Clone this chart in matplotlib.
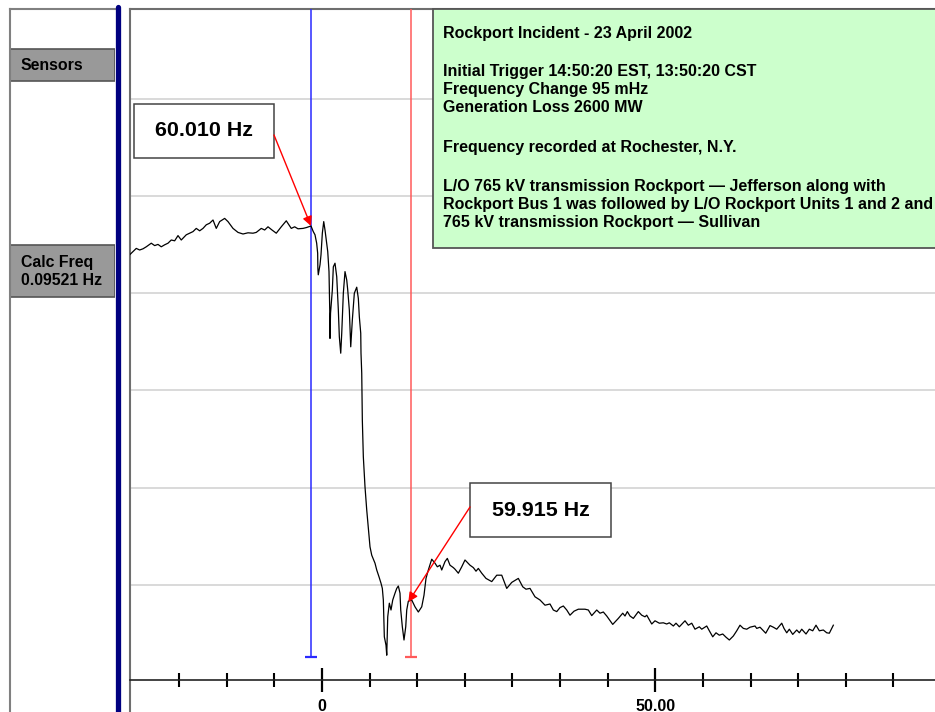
import matplotlib.pyplot as plt
from matplotlib.patches import Rectangle
from matplotlib.lines import Line2D

plt.rcParams['font.family'] = ['Liberation Sans', 'DejaVu Sans']
plt.rcParams['font.weight'] = 'bold'

# frequency trace (s relative to trigger, Hz)
time_s = [
    -28.85, -28.35, -27.86, -27.35, -26.85, -26.36, -25.61, -25.10, -24.60, -24.11,
    -23.60, -23.10, -22.61, -22.10, -21.60, -21.11, -20.36, -19.85, -19.35, -18.86,
    -18.35, -17.85, -17.36, -16.85, -16.35, -15.86, -15.35, -14.60, -14.10, -13.35,
    -12.60, -11.85, -11.10, -10.35, -9.86, -9.11, -8.60, -8.10, -7.50, -6.86,
    -6.11, -5.36, -4.61, -4.10, -3.60, -2.85, -2.36, -1.65,
    -1.31, -1.05, -0.80, -0.65, -0.62, -0.56, -0.30, -0.15, 0.05, 0.26,
    0.45, 0.71, 0.86, 1.05, 1.16, 1.20, 1.28, 1.55, 1.70, 1.95,
    2.21, 2.36, 2.45, 2.60, 2.81, 2.96, 3.20, 3.45, 3.71, 3.86,
    4.10, 4.31, 4.55, 4.85, 5.21, 5.45, 5.60, 5.81, 5.85, 5.96,
    6.05, 6.20, 6.45, 6.71, 7.20, 7.46, 7.95, 8.21, 8.55, 8.85,
    9.05, 9.20, 9.24, 9.35, 9.60, 9.71, 9.80, 9.86, 10.10, 10.35,
    10.61, 10.95, 11.21, 11.45, 11.70, 11.81, 12.05, 12.30, 12.56, 12.71,
    12.95, 13.46, 13.95, 14.45, 14.96, 15.30, 15.60, 15.95, 16.46, 16.95,
    17.30, 17.70, 17.96, 18.45, 18.80, 19.20, 19.70, 19.95, 20.45, 20.96,
    21.45, 22.20, 22.70, 23.10, 23.45, 23.96, 24.60, 25.46, 26.21, 26.96,
    27.71, 28.46, 29.45, 30.11, 30.60, 31.20, 31.95, 32.70, 33.45, 34.20,
    34.70, 35.21, 35.70, 36.20, 36.71, 37.20, 37.80, 38.45, 39.45, 39.95,
    40.46, 41.21, 41.70, 42.20, 42.71, 43.61, 44.45, 45.11, 45.45, 45.80,
    46.20, 46.70, 47.45, 47.96, 48.45, 48.71, 49.46, 49.95, 50.60, 51.20,
    51.71, 52.10, 52.70, 53.10, 53.60, 54.45, 54.95, 55.46, 55.95, 56.60,
    56.96, 57.71, 58.10, 58.61, 59.10, 59.60, 60.11, 60.60, 61.10, 61.70,
    62.21, 62.70, 63.20, 63.71, 64.20, 64.95, 65.21, 65.70, 66.56, 67.20,
    67.70, 68.21, 68.96, 69.30, 69.71, 70.10, 70.61, 71.21, 71.60, 71.96,
    72.60, 73.10, 73.61, 74.10, 74.60, 75.20, 75.71, 76.10, 76.70,
]
freq_hz = [
    60.0028, 60.0036, 60.0044, 60.0040, 60.0043, 60.0048, 60.0057, 60.0051, 60.0054, 60.0048,
    60.0053, 60.0057, 60.0065, 60.0063, 60.0076, 60.0065, 60.0078, 60.0082, 60.0086, 60.0094,
    60.0088, 60.0094, 60.0103, 60.0107, 60.0115, 60.0094, 60.0111, 60.0119, 60.0111, 60.0094,
    60.0084, 60.0080, 60.0083, 60.0082, 60.0084, 60.0094, 60.0090, 60.0098, 60.0090, 60.0082,
    60.0098, 60.0113, 60.0094, 60.0098, 60.0093, 60.0094, 60.0096, 60.0100,
    60.0086, 60.0078, 60.0057, 60.0032, 59.9994, 59.9978, 60.0003, 60.0028, 60.0082, 60.0111,
    60.0090, 60.0057, 60.0036, 59.9986, 59.9890, 59.9819, 59.9882, 59.9940, 59.9998, 60.0007,
    59.9973, 59.9923, 59.9890, 59.9823, 59.9782, 59.9832, 59.9932, 59.9986, 59.9965, 59.9940,
    59.9890, 59.9798, 59.9865, 59.9932, 59.9947, 59.9919, 59.9873, 59.9832, 59.9782, 59.9732,
    59.9615, 59.9523, 59.9448, 59.9390, 59.9298, 59.9277, 59.9257, 59.9240, 59.9223, 59.9207,
    59.9194, 59.9165, 59.9140, 59.9073, 59.9052, 59.9027, 59.9082, 59.9123, 59.9157, 59.9140,
    59.9165, 59.9182, 59.9194, 59.9200, 59.9182, 59.9140, 59.9098, 59.9065, 59.9098, 59.9140,
    59.9162, 59.9165, 59.9148, 59.9135, 59.9148, 59.9177, 59.9219, 59.9240, 59.9267, 59.9257,
    59.9248, 59.9252, 59.9240, 59.9261, 59.9269, 59.9252, 59.9246, 59.9242, 59.9232, 59.9248,
    59.9265, 59.9252, 59.9246, 59.9237, 59.9244, 59.9232, 59.9219, 59.9211, 59.9227, 59.9227,
    59.9194, 59.9209, 59.9219, 59.9198, 59.9192, 59.9194, 59.9173, 59.9165, 59.9152, 59.9155,
    59.9140, 59.9136, 59.9146, 59.9150, 59.9140, 59.9127, 59.9137, 59.9142, 59.9142, 59.9140,
    59.9126, 59.9140, 59.9132, 59.9135, 59.9125, 59.9104, 59.9119, 59.9132, 59.9125, 59.9136,
    59.9125, 59.9119, 59.9136, 59.9127, 59.9123, 59.9127, 59.9105, 59.9113, 59.9107, 59.9108,
    59.9105, 59.9108, 59.9100, 59.9107, 59.9098, 59.9113, 59.9102, 59.9107, 59.9092, 59.9098,
    59.9092, 59.9100, 59.9088, 59.9073, 59.9083, 59.9077, 59.9080, 59.9072, 59.9065, 59.9075,
    59.9088, 59.9102, 59.9094, 59.9092, 59.9097, 59.9100, 59.9094, 59.9097, 59.9082, 59.9101,
    59.9097, 59.9092, 59.9107, 59.9094, 59.9083, 59.9092, 59.9079, 59.9090, 59.9083, 59.9092,
    59.9080, 59.9092, 59.9088, 59.9102, 59.9088, 59.9090, 59.9083, 59.9082, 59.9102,
]
assert len(time_s) == len(freq_hz)

# cursors and readings
cursor_times = [-1.65, 13.35]
cursor_colors = ['#2a2aff', '#ff5a5a']
cursor_bottom = 59.9023
readings = [(-1.65, 60.0100, '60.010 Hz'), (12.95, 59.9160, '59.915 Hz')]

major_ticks = [0, 50]
major_labels = ['0', '50.00']
minor_step = 50 / 7

sensor_labels = ['Sensors', 'Calc Freq\n0.09521 Hz']

info_lines = [
    'Rockport Incident - 23 April 2002',
    '',
    'Initial Trigger 14:50:20 EST, 13:50:20 CST',
    'Frequency Change 95 mHz',
    'Generation Loss 2600 MW',
    '',
    'Frequency recorded at Rochester, N.Y.',
    '',
    'L/O 765 kV transmission Rockport \u2014 Jefferson along with',
    'Rockport Bus 1 was followed by L/O Rockport Units 1 and 2 and',
    '765 kV transmission Rockport \u2014 Sullivan',
]

W, H = 935, 712
fig = plt.figure(figsize=(W / 100, H / 100), dpi=100)

# main trace panel, spans pixel x 130..935, y 9..712
AX_L, AX_T = 130, 9
ax = fig.add_axes([AX_L / W, 0, (W - AX_L) / W, (H - AX_T) / H])


def frac(px, py):
    # pixel position -> axes fraction of the main panel
    return (px - AX_L) / (W - AX_L), (H - py) / (H - AX_T)


ax.set_xlim(-28.8, 91.95)
ax.set_ylim(59.8885, 60.06425)

grid_top, grid_step = 60.0418, 0.0243
ax.set_yticks([grid_top - k * grid_step for k in range(6)])
ax.tick_params(axis='y', length=0, labelleft=False)
ax.grid(axis='y', color='#d9d9d9', lw=1.4)
ax.set_axisbelow(True)

ax.spines['right'].set_visible(False)
ax.spines['left'].set_color('#6e6e6e')
ax.spines['left'].set_linewidth(1.5)
ax.spines['top'].set_color('#6e6e6e')
ax.spines['top'].set_linewidth(1.5)
ax.spines['bottom'].set_position(('data', 59.8965))
ax.spines['bottom'].set_color('#222222')
ax.spines['bottom'].set_linewidth(1.2)

ax.set_xticks(major_ticks)
ax.set_xticklabels(major_labels)
minor = [k * minor_step for k in range(-3, 13) if k != 0 and k != 7]
ax.set_xticks(minor, minor=True)
ax.tick_params(axis='x', which='major', direction='inout', length=17, width=1.6,
               labelsize=11.5, pad=5)
ax.tick_params(axis='x', which='minor', direction='inout', length=9.5, width=1.5)

ax.plot(time_s, freq_hz, color='black', lw=0.9, zorder=4)

for t, c in zip(cursor_times, cursor_colors):
    ax.vlines(t, cursor_bottom, ax.get_ylim()[1], color=c, lw=1.1, zorder=3)
    ax.plot([t], [cursor_bottom], marker='_', ms=8, mew=1.6, color=c, zorder=3)

# reading boxes with arrows
boxes = [(134, 104, 274, 158, 274, 135), (470, 483, 611, 537, 470, 507)]
for (x0, y0, x1, y1, ax0, ay0), (t, f, label) in zip(boxes, readings):
    bl = frac(x0, y1)
    tr = frac(x1, y0)
    ax.add_patch(Rectangle(bl, tr[0] - bl[0], tr[1] - bl[1], transform=ax.transAxes,
                           facecolor='white', edgecolor='#444444', lw=1.1, zorder=6))
    cx, cy = frac((x0 + x1) / 2, (y0 + y1) / 2)
    ax.text(cx, cy, label, transform=ax.transAxes, ha='center', va='center',
            fontsize=15.4, zorder=7)
    ax.annotate('', xy=(t, f), xycoords='data', xytext=frac(ax0, ay0),
                textcoords='axes fraction',
                arrowprops=dict(arrowstyle='-|>', color='red', lw=1.0,
                                mutation_scale=14, shrinkA=0, shrinkB=0),
                zorder=6)

# incident info box
bl = frac(433, 248)
ax.add_patch(Rectangle(bl, 1.02 - bl[0], 1.0 - bl[1], transform=ax.transAxes,
                       facecolor='#ccffcc', edgecolor='#555555', lw=1.3,
                       clip_on=False, zorder=6))
line_y = [38.3, 57, 76, 94, 112.3, 132, 151.7, 171, 190.7, 209, 226.7]
for txt, py in zip(info_lines, line_y):
    if txt:
        ax.text(*frac(443, py), txt, transform=ax.transAxes, ha='left',
                va='baseline', fontsize=11.5, zorder=7)

# sensor panel on the left
side = fig.add_axes([10 / W, 0, 105 / W, (H - AX_T) / H])
side.set_xlim(0, 105)
side.set_ylim(H - AX_T, 0)
side.set_xticks([])
side.set_yticks([])
for s in ['right', 'bottom']:
    side.spines[s].set_visible(False)
for s in ['left', 'top']:
    side.spines[s].set_color('#808080')
    side.spines[s].set_linewidth(1.5)

sensor_boxes = [(40, 72, [61]), (236, 288, [257.7, 276])]
for label, (top, bot, bases) in zip(sensor_labels, sensor_boxes):
    side.add_patch(Rectangle((0, top), 105, bot - top, facecolor='#999999',
                             edgecolor='#555555', lw=1.2))
    for part, b in zip(label.split('\n'), bases):
        side.text(11, b, part, ha='left', va='baseline', fontsize=11.4)

# navy divider
fig.add_artist(Line2D([117.5 / W, 117.5 / W], [0, (H - 7) / H],
                      transform=fig.transFigure, color='#000080', lw=3.8,
                      solid_capstyle='round'))

fig.savefig('out.png', dpi=100)
